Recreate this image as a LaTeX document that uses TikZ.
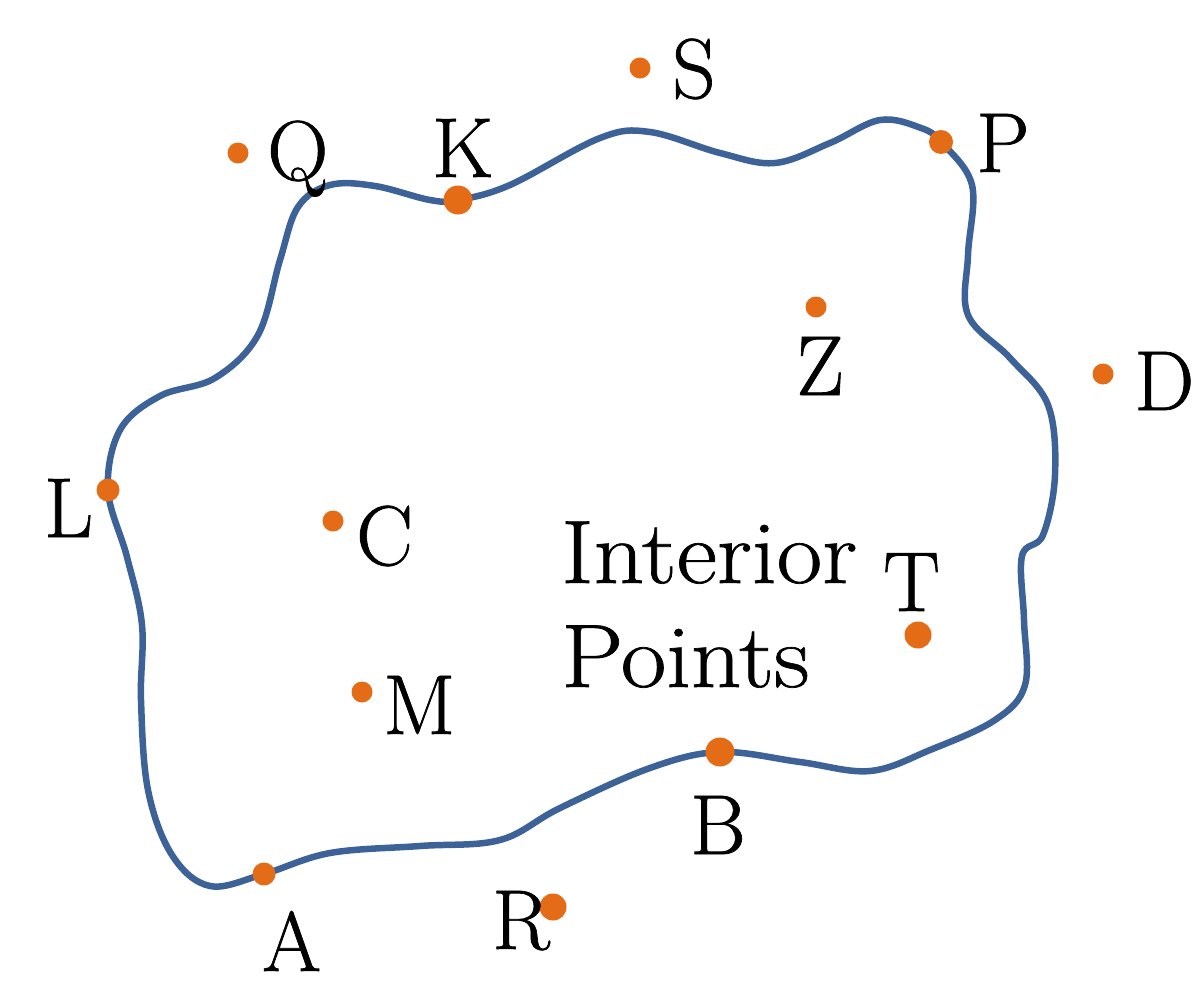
\documentclass[tikz,border=0pt]{standalone}
\usepackage{fontspec}
\setmainfont{Latin Modern Roman}
\definecolor{curveblue}{RGB}{60,98,152}
\definecolor{dotorange}{RGB}{228,108,22}
\tikzset{
  dotsmall/.style={circle,fill=dotorange,inner sep=0pt,minimum size=21pt},
  dotbig/.style={circle,fill=dotorange,inner sep=0pt,minimum size=29pt},
  lbl/.style={inner sep=0pt,anchor=base west,font=\fontsize{85}{100}\selectfont\addfontfeature{FakeBold=0.8}},
  bigtext/.style={inner sep=0pt,anchor=base west,font=\fontsize{90}{104}\selectfont\addfontfeature{FakeStretch=1.1,FakeBold=0.8}},
  boundary/.style={draw=curveblue,line width=6.5pt,line join=round}
}
\begin{document}
\begin{tikzpicture}[x=1pt,y=-1pt]
\useasboundingbox (0,0) rectangle (1200,988);
% boundary points
\coordinate (L) at (108,490);
\coordinate (K) at (458,200);
\coordinate (P) at (941,142);
\coordinate (B) at (720,752);
\coordinate (A) at (264,874);
\draw[boundary] plot[smooth cycle,tension=0.6] coordinates {
 (L) (120,430) (160,396) (215,378) (258,335) (280,260) (298,207) (330,185)
 (375,186) (430,200)
 (K) (510,185) (600,138) (650,132) (720,153) (775,163) (830,143) (880,120)
 (921,128)
 (P) (972,185) (968,255) (968,315) (1010,358) (1048,405) (1055,475) (1043,535)
 (1022,556) (1024,620) (1025,685) (995,720) (930,750) (870,771) (800,762)
 (B) (650,768) (560,808) (500,840) (420,846) (330,853)
 (A) (210,886) (172,855) (148,790) (141,700) (142,625) (127,557)
};
% dots
\node[dotsmall] (dS) at (640,68) {};
\node[dotsmall] (dQ) at (238,153) {};
\node[dotbig]   (dK) at (K) {};
\node[dotsmall,minimum size=24pt] (dP) at (P) {};
\node[dotsmall] (dZ) at (816,307) {};
\node[dotsmall] (dD) at (1103,374) {};
\node[dotsmall,minimum size=23pt] (dL) at (L) {};
\node[dotsmall] (dC) at (333,521) {};
\node[dotbig,minimum size=27pt] (dT) at (918,635) {};
\node[dotsmall] (dM) at (362,692) {};
\node[dotbig]   (dB) at (B) {};
\node[dotsmall,minimum size=23pt] (dA) at (A) {};
\node[dotbig,minimum size=27pt] (dR) at (553,907) {};
% labels
\node[lbl] (lS) at (672,98) {S};
\node[lbl] (lQ) at (267,180) {Q};
\node[lbl] (lK) at (432,177) {K};
\node[lbl] (lP) at (976,172) {P};
\node[lbl] (lZ) at (796,395) {Z};
\node[lbl] (lD) at (1134,410) {D};
\node[lbl] (lL) at (44,537) {L};
\node[lbl] (lC) at (356,565) {C};
\node[lbl] (lT) at (883,611) {T};
\node[lbl] (lM) at (383,734) {M};
\node[lbl] (lB) at (690,854) {B};
\node[lbl] (lR) at (492,949) {R};
\node[lbl] (lA) at (262,971) {A};
\node[bigtext] (lI) at (561,583) {Interior};
\node[bigtext] (lPt) at (561,687) {Points};
\end{tikzpicture}
\end{document}
